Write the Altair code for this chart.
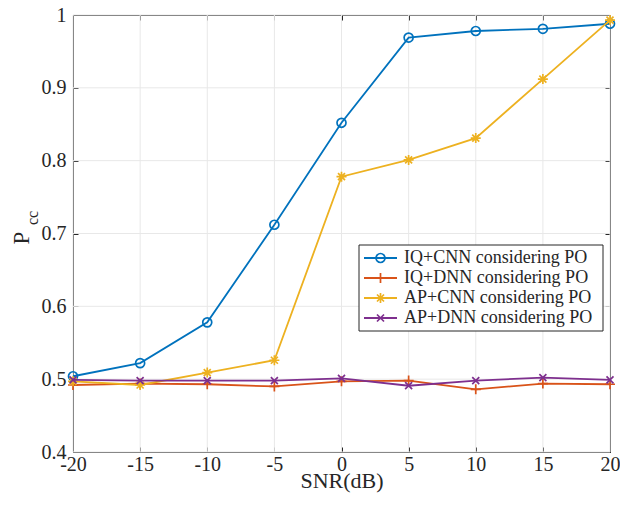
import altair as alt
import pandas as pd

snr = [-20, -15, -10, -5, 0, 5, 10, 15, 20]
iq_cnn = [0.504, 0.522, 0.578, 0.712, 0.852, 0.969, 0.978, 0.981, 0.988]
iq_dnn = [0.492, 0.494, 0.493, 0.490, 0.497, 0.498, 0.486, 0.494, 0.493]
ap_cnn = [0.497, 0.492, 0.509, 0.526, 0.778, 0.801, 0.831, 0.912, 0.993]
ap_dnn = [0.499, 0.498, 0.498, 0.498, 0.501, 0.491, 0.498, 0.502, 0.499]

names = ["IQ+CNN considering PO", "IQ+DNN considering PO",
         "AP+CNN considering PO", "AP+DNN considering PO"]
series = [iq_cnn, iq_dnn, ap_cnn, ap_dnn]
colors = ["#0072BD", "#D95319", "#EDB120", "#7E2F8E"]
shapes = ["circle",
          "M-1,0L1,0M0,-1L0,1",
          "M-1,0L1,0M0,-1L0,1M-0.7,-0.7L0.7,0.7M-0.7,0.7L0.7,-0.7",
          "M-1,-1L1,1M-1,1L1,-1"]
sizes = [81, 100, 100, 49]

xticks = [-20, -15, -10, -5, 0, 5, 10, 15, 20]
yticks = [0.4, 0.5, 0.6, 0.7, 0.8, 0.9, 1.0]

FONT = "Liberation Serif"
TXT = "#262626"
LEFT, TOP, RIGHT, BOTTOM = 65, 7, 10, 46
W, H = 537, 437

xs = alt.Scale(domain=[-20, 20], nice=False, zero=False)
ys = alt.Scale(domain=[0.4, 1.0], nice=False, zero=False)

ax_bottom = alt.Axis(orient="bottom", values=xticks, offset=-5, tickSize=5, domain=False,
                     grid=False, labelPadding=2, labelFont=FONT, labelFontSize=20,
                     labelColor=TXT, tickColor=TXT, labelFlush=False, labelOverlap=False,
                     labelExpr="'' + datum.value", title="SNR(dB)", titleFont=FONT,
                     titleFontSize=22, titleFontWeight="normal", titleColor=TXT, titlePadding=-4)
ax_left = alt.Axis(orient="left", values=yticks, offset=-5, tickSize=5, domain=False,
                   grid=False, labelPadding=7, labelFont=FONT, labelFontSize=20,
                   labelColor=TXT, tickColor=TXT, labelFlush=False, labelOverlap=False,
                   labelExpr="'' + datum.value", title=None)
ax_top = alt.Axis(orient="top", values=xticks, offset=-5, tickSize=5, domain=False,
                  grid=False, labels=False, tickColor=TXT, title=None)
ax_right = alt.Axis(orient="right", values=yticks, offset=-5, tickSize=5, domain=False,
                    grid=False, labels=False, tickColor=TXT, title=None)

GRID = "#e8e8e8"
gx = alt.Chart(pd.DataFrame({"t": xticks})).mark_rule(color=GRID, strokeWidth=1).encode(
    x=alt.X("t:Q", scale=xs, axis=ax_bottom))
gy = alt.Chart(pd.DataFrame({"t": yticks})).mark_rule(color=GRID, strokeWidth=1).encode(
    y=alt.Y("t:Q", scale=ys, axis=ax_left))

frame = alt.Chart(pd.DataFrame({"x": [snr[0]], "v": [iq_cnn[0]]})).mark_point(opacity=0).encode(
    x=alt.X("x:Q", scale=xs, axis=ax_top),
    y=alt.Y("v:Q", scale=ys, axis=ax_right))

layers = [gx, gy, frame]
for name, vals, col, shp, sz in zip(names, series, colors, shapes, sizes):
    df = pd.DataFrame({"x": snr, "v": vals, "s": name})
    base = alt.Chart(df).encode(
        x=alt.X("x:Q", scale=xs, axis=None),
        y=alt.Y("v:Q", scale=ys, axis=None))
    layers.append(base.mark_line(color=col, strokeWidth=1.8))
    layers.append(base.mark_point(shape=shp, size=sz, filled=False, color=col,
                                  strokeWidth=1.7, opacity=1))

# legend (manual), positions in plot-area pixels
offy = 8 + TOP
LX1 = W - 7
LX0 = LX1 - 244
LY0, LY1 = 245 - offy, 331 - offy
row_y = [y - offy for y in (258, 278, 298, 318)]
one = pd.DataFrame({"a": [0]})
layers.append(alt.Chart(one).mark_rect(fill="white", stroke=TXT, strokeWidth=1).encode(
    x=alt.value(LX0), x2=alt.value(LX1), y=alt.value(LY0), y2=alt.value(LY1)))
for name, col, shp, sz, ry in zip(names, colors, shapes, sizes, row_y):
    layers.append(alt.Chart(one).mark_rule(color=col, strokeWidth=1.8).encode(
        x=alt.value(LX0 + 5), x2=alt.value(LX0 + 38), y=alt.value(ry)))
    layers.append(alt.Chart(one).mark_point(shape=shp, size=sz, filled=False, color=col,
                                            strokeWidth=1.7, opacity=1).encode(
        x=alt.value(LX0 + 21.5), y=alt.value(ry)))
    layers.append(alt.Chart(one).mark_text(text=name, font=FONT, fontSize=18, color=TXT,
                                           align="left", baseline="middle").encode(
        x=alt.value(LX0 + 45), y=alt.value(ry)))

# y title P_cc
offx = 8 + LEFT
layers.append(alt.Chart(one).mark_text(text="P", font=FONT, fontSize=23, color=TXT,
                                       angle=270, align="center", baseline="middle").encode(
    x=alt.value(22 - offx), y=alt.value(238 - offy)))
layers.append(alt.Chart(one).mark_text(text="cc", font=FONT, fontSize=16, color=TXT,
                                       angle=270, align="center", baseline="middle").encode(
    x=alt.value(33 - offx), y=alt.value(218 - offy)))

chart = alt.layer(*layers).resolve_axis(x="independent", y="independent").properties(
    width=W, height=H,
    autosize=alt.AutoSizeParams(type="none"),
    padding={"left": LEFT, "top": TOP, "right": RIGHT, "bottom": BOTTOM},
    background="white",
).configure_view(stroke=TXT, strokeWidth=1).configure_axis(
    labelFont=FONT, titleFont=FONT)

chart.save("out.html", embed_options={"renderer": "svg", "actions": False})
